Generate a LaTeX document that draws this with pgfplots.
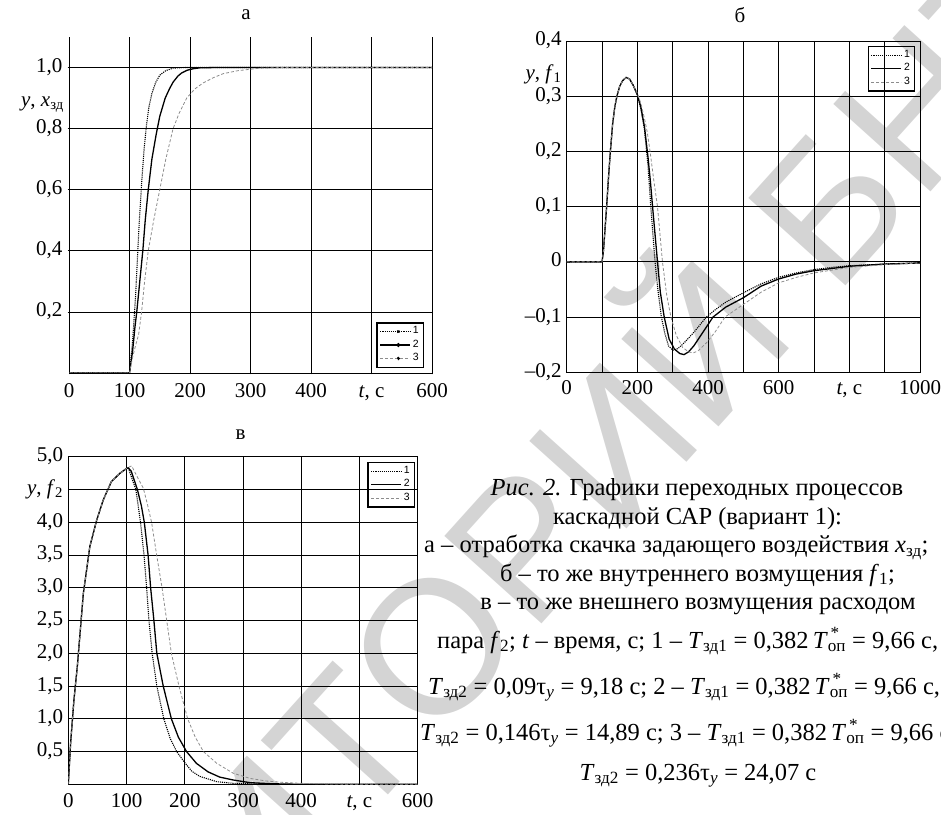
\documentclass[border=0pt]{standalone}
\usepackage{fontspec}
\setmainfont{Liberation Serif}
\newfontfamily\legfont{Liberation Sans}
\usepackage{pgfplots}
\pgfplotsset{compat=1.18}
\newcommand{\zd}{\textsubscript{зд}}
\newcommand{\Top}{\textit{T}\makebox[0pt][l]{\textsuperscript{\,*}}\textsubscript{оп}}
\newcommand{\ylaba}{\textit{y}, \textit{x}\zd}
\newcommand{\ylabb}{\textit{y}, \textit{f}\textsubscript{1}}
\newcommand{\ylabc}{\textit{y}, \textit{f}\textsubscript{2}}
\newcommand{\tlab}{\textit{t}, с}
\newcommand\wmf{\legfont\fontsize{190}{190}\selectfont}
\pgfplotsset{
  myax/.style={
    scale only axis,
    grid=major,
    major grid style={black, line width=0.8pt},
    axis line style={black, line width=0.9pt},
    tick style={black, line width=0.7pt},
    major tick length=3pt,
    tick align=inside,
    typeset ticklabels with strut,
    xticklabel style={inner sep=1pt, yshift=-4pt},
    yticklabel style={inner sep=1pt, xshift=-4pt},
    legend cell align=left,
    legend style={font=\legfont\fontsize{10.5}{11}\selectfont, draw=black, line width=1.4pt,
      inner xsep=2.5pt, inner ysep=1.5pt, row sep=-1pt, fill=none},
    legend image code/.code={\draw[##1] (0pt,0pt) -- (30pt,0pt);},
  },
  s1/.style={black, densely dotted, line width=1.1pt},
  s2/.style={black, line width=1.3pt},
  s3/.style={black!45, densely dashed, line width=0.8pt},
}
\begin{document}
\fontsize{21}{25}\selectfont
\begin{tikzpicture}
\path[use as bounding box] (0pt,0pt) rectangle (941pt,814pt);

% watermark (behind everything), one node per visible letter
\begin{scope}[shift={(435pt,203pt)}, rotate=48, transform shape,
  every node/.style={anchor=base west, inner sep=0pt, font=\wmf, text=black!17}]
\node at (-354.5pt,-88pt) {И};
\node at (-217.4pt,-88pt) {Т};
\node at (-101.3pt,-88pt) {О};
\node at (46.6pt,-88pt) {Р};
\node at (173.3pt,-88pt) {И};
\node at (310.5pt,-88pt) {Й};
\node at (500.5pt,-88pt) {Б};
\node at (627.2pt,-88pt) {Н};
\node at (764.4pt,-88pt) {Т};
\end{scope}

% ---------- a ----------
\begin{axis}[myax, at={(69pt,441pt)}, anchor=south west, width=363pt, height=336pt,
  axis x line=bottom, axis y line=left, axis line style={-},
  xmin=0, xmax=600, ymin=0, ymax=1.1,
  xtick={0,100,...,600}, xticklabels={0,100,200,300,400,\tlab,600},
  ytick={0.2,0.4,0.6,0.8,1.0}, yticklabels={{0,2},{0,4},{0,6},{0,8},{1,0}},
  extra y ticks={0.89}, extra y tick labels={\ylaba},
  extra y tick style={grid=none, major tick length=0pt},
  legend style={at={(0.978,0.015)}, anchor=south east},
  legend image code/.code={\draw[#1] (0pt,0pt) -- (30pt,0pt); \fill[black] (18pt,0pt) circle (1.3pt);},
]
\addplot[s1] coordinates {(0,0)(100,0)(105,0.1)(108,0.19)(110,0.25)(113,0.37)(116,0.49)(120,0.62)(124,0.73)(128,0.81)(132,0.87)(137,0.915)(143,0.95)(150,0.975)(160,0.99)(172,0.998)(190,1)(600,1)};
\addplot[s2] coordinates {(0,0)(100,0)(105,0.07)(109,0.15)(112,0.2)(117,0.3)(122,0.4)(126,0.5)(131,0.6)(137,0.7)(144,0.78)(150,0.84)(159,0.9)(166,0.93)(172,0.952)(180,0.972)(186,0.982)(195,0.991)(205,0.996)(216,0.999)(240,1)(600,1)};
\addplot[s3] coordinates {(0,0)(100,0)(105,0.05)(110,0.09)(115,0.125)(120,0.2)(125,0.3)(131,0.4)(140,0.5)(150,0.6)(160,0.7)(172,0.8)(182,0.85)(194.5,0.9)(208,0.93)(222,0.95)(240,0.968)(255,0.98)(280,0.99)(316,0.998)(350,1)(600,1)};
\legend{1,2,3}
\end{axis}

% ---------- б ----------
\begin{axis}[myax, at={(566.7pt,441.7pt)}, anchor=south west, width=353.3pt, height=331.3pt,
  xmin=0, xmax=1000, ymin=-0.2, ymax=0.4,
  xtick={0,100,...,1000}, xticklabels={0,,200,,400,,600,,\tlab,,1000},
  ytick={-0.2,-0.1,0,0.1,0.2,0.3,0.4}, yticklabels={{–0,2},{–0,1},0,{0,1},{0,2},{0,3},{0,4}},
  extra y ticks={0.34}, extra y tick labels={\ylabb},
  extra y tick style={grid=none, major tick length=0pt},
  legend style={at={(0.986,0.985)}, anchor=north east},
]
\addplot[s1] coordinates {(0,0)(100,0)(104,0.02)(108,0.055)(113,0.1)(118,0.15)(123,0.195)(130,0.25)(136,0.28)(142,0.3)(150,0.318)(158,0.328)(168,0.334)(178,0.331)(188,0.32)(200,0.302)(210,0.277)(220,0.24)(230,0.175)(238,0.1)(244,0.05)(250,0.0)(258,-0.05)(268,-0.1)(278,-0.13)(288,-0.152)(300,-0.16)(315,-0.157)(335,-0.145)(362,-0.126)(395,-0.1)(420,-0.087)(450,-0.073)(500,-0.056)(550,-0.04)(600,-0.028)(650,-0.02)(700,-0.014)(750,-0.01)(800,-0.007)(900,-0.004)(1000,-0.002)};
\addplot[s2] coordinates {(0,0)(100,0)(104,0.02)(108,0.055)(113,0.1)(118,0.15)(123,0.195)(130,0.25)(136,0.28)(142,0.3)(150,0.318)(158,0.328)(168,0.334)(178,0.331)(188,0.32)(200,0.303)(210,0.28)(220,0.245)(230,0.19)(237,0.145)(243,0.1)(250,0.05)(257,0.0)(265,-0.055)(276,-0.1)(290,-0.14)(305,-0.158)(320,-0.166)(332,-0.168)(345,-0.163)(360,-0.152)(385,-0.128)(414,-0.1)(450,-0.082)(500,-0.065)(550,-0.044)(600,-0.031)(650,-0.022)(700,-0.016)(800,-0.008)(900,-0.004)(1000,-0.002)};
\addplot[s3] coordinates {(0,0)(100,0)(104,0.02)(108,0.055)(113,0.1)(118,0.15)(123,0.195)(130,0.25)(136,0.28)(142,0.3)(150,0.318)(158,0.328)(168,0.334)(178,0.331)(188,0.32)(200,0.305)(210,0.287)(220,0.26)(228,0.235)(236,0.2)(246,0.15)(257,0.1)(264,0.05)(271,0.0)(283,-0.06)(295,-0.1)(310,-0.133)(328,-0.155)(345,-0.163)(358,-0.165)(372,-0.161)(395,-0.147)(420,-0.127)(448,-0.1)(500,-0.077)(550,-0.055)(600,-0.038)(650,-0.028)(700,-0.02)(800,-0.01)(900,-0.005)(1000,-0.002)};
\legend{1,2,3}
\end{axis}

% ---------- в ----------
\begin{axis}[myax, at={(68.3pt,29.7pt)}, anchor=south west, width=349.4pt, height=327.6pt,
  xmin=0, xmax=600, ymin=0, ymax=5,
  xtick={0,100,...,600}, xticklabels={0,100,200,300,400,\tlab,600},
  ytick={0.5,1,...,5}, yticklabels={{0,5},{1,0},{1,5},{2,0},{2,5},{3,0},{3,5},{4,0},\ylabc,{5,0}},
  legend style={at={(0.992,0.984)}, anchor=north east},
]
\addplot[s1] coordinates {(0,0)(4,0.63)(9.7,1.29)(15.5,1.8)(25.8,2.91)(37,3.63)(48.7,4.03)(60,4.34)(74,4.62)(89,4.75)(100,4.82)(103,4.83)(110,4.65)(116,4.5)(124,4.0)(130,3.5)(134.5,3.0)(138.5,2.5)(144,2.0)(152,1.5)(164,1.0)(175,0.7)(186,0.5)(200,0.33)(212,0.2)(226,0.12)(255,0.04)(283,0.015)(320,0.005)(360,0)(600,0)};
\addplot[s2] coordinates {(0,0)(4,0.63)(9.7,1.29)(15.5,1.8)(25.8,2.91)(37,3.63)(48.7,4.03)(60,4.34)(74,4.62)(89,4.75)(100,4.82)(103,4.83)(108,4.78)(118.6,4.5)(125.5,4.25)(130.5,4.0)(137,3.5)(141.4,3.0)(147,2.5)(152,2.0)(163,1.5)(177,1.0)(189,0.72)(203,0.5)(220,0.32)(240,0.19)(260,0.11)(283,0.066)(312,0.025)(350,0.008)(400,0)(600,0)};
\addplot[s3] coordinates {(0,0)(4,0.63)(9.7,1.29)(15.5,1.8)(25.8,2.91)(37,3.63)(48.7,4.03)(60,4.34)(74,4.62)(89,4.75)(100,4.82)(104,4.84)(108.8,4.86)(118,4.7)(128.8,4.52)(136,4.27)(143,4.0)(151.7,3.5)(161,3.0)(169,2.5)(177,2.0)(190,1.5)(205,1.0)(218,0.72)(232,0.5)(255,0.32)(283,0.17)(312,0.09)(340,0.05)(370,0.028)(398,0.015)(450,0.005)(500,0)(600,0)};
\legend{1,2,3}
\end{axis}

% titles
\node at (246pt,799pt) {а};
\node at (740pt,799pt) {б};
\node at (240.7pt,379pt) {в};

% caption
\begin{scope}[every node/.style={font=\fontsize{24.5}{29}\selectfont, inner sep=0pt}]
\node[anchor=base] at (697pt,318pt) {\textit{Рис. 2.} Графики переходных процессов};
\node[anchor=base] at (697.5pt,290pt) {каскадной САР (вариант 1):};
\node[anchor=base west] at (424pt,261.3pt) {а – отработка скачка задающего воздействия \textit{x}\zd;};
\node[anchor=base] at (697.5pt,233pt) {б – то же внутреннего возмущения \textit{f}\textsubscript{1};};
\node[anchor=base] at (698pt,205pt) {в – то же внешнего возмущения расходом};
\node[anchor=base west] at (437pt,166pt) {пара \textit{f}\textsubscript{2}; \textit{t} – время, с; 1 – \textit{T}\textsubscript{зд1} = 0,382\,\Top{} = 9,66 с,};
\node[anchor=base west] at (428pt,120pt) {\textit{T}\textsubscript{зд2} = 0,09τ\textsubscript{\textit{y}} = 9,18 с; 2 – \textit{T}\textsubscript{зд1} = 0,382\,\Top{} = 9,66 с,};
\node[anchor=base west] at (420pt,74pt) {\textit{T}\textsubscript{зд2} = 0,146τ\textsubscript{\textit{y}} = 14,89 с; 3 – \textit{T}\textsubscript{зд1} = 0,382\,\Top{} = 9,66 с,};
\node[anchor=base] at (698pt,34pt) {\textit{T}\textsubscript{зд2} = 0,236τ\textsubscript{\textit{y}} = 24,07 с};
\end{scope}
\end{tikzpicture}
\end{document}
